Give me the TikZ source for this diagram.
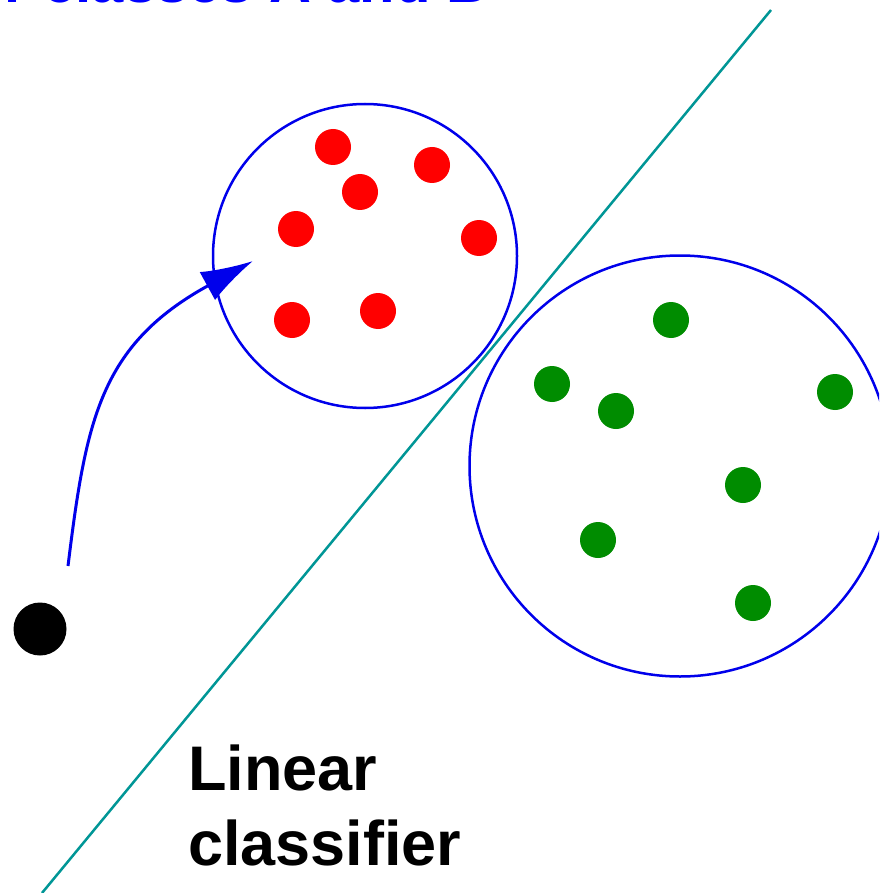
\documentclass[tikz,border=0pt]{standalone}
\usepackage{fontspec}
\setmainfont{Liberation Sans}
\usetikzlibrary{arrows.meta}
\definecolor{tealline}{RGB}{0,150,150}
\definecolor{ptred}{RGB}{255,0,0}
\definecolor{ptgreen}{RGB}{0,140,0}
\definecolor{circblue}{RGB}{0,0,235}
\begin{document}
\begin{tikzpicture}[x=1pt,y=-1pt,
  reddot/.style={circle,fill=ptred,inner sep=0pt,minimum size=36pt},
  greendot/.style={circle,fill=ptgreen,inner sep=0pt,minimum size=36pt},
  cluster/.style={circle,draw=circblue,line width=2.5pt,inner sep=0pt},
  lbl/.style={font=\bfseries\fontsize{63}{75}\selectfont,align=left,inner sep=0pt}]
\clip (0,0) rectangle (879,893);
\fill[white] (0,0) rectangle (879,893);
% top (cut) title
\node[anchor=base west,inner sep=0pt,text=blue,font=\bfseries\fontsize{58}{70}\selectfont] (title) at (-50,2.5) {for classes A and B};
% linear classifier line
\coordinate (lA) at (42,893);
\coordinate (lB) at (771,10);
\draw[tealline,line width=2.5pt] (lA) -- (lB);
% clusters
\node[cluster,minimum size=304pt] (cA) at (365,256) {};
\node[cluster,minimum size=421pt] (cB) at (680,466) {};
% red points
\foreach \n/\x/\y in {r1/333/147,r2/432/165,r3/360/192,r4/296/229,r5/479/238,r6/292/320,r7/378/311}
  \node[reddot] (\n) at (\x,\y) {};
% green points
\foreach \n/\x/\y in {g1/671/320,g2/552/384,g3/616/411,g4/835/392,g5/743/485,g6/598/540,g7/753/603}
  \node[greendot] (\n) at (\x,\y) {};
% query point
\node[circle,fill=black,inner sep=0pt,minimum size=53pt] (q) at (40,629) {};
% arrow
\coordinate (aS) at (68,566);
\coordinate (aE) at (253,261);
\draw[circblue,line width=3pt,-{Latex[length=52pt,width=32pt]}] (aS) .. controls (86,420) and (100,345) .. (aE);
% label
\node[lbl,anchor=base west] (lin) at (188,865) {Linear\\classifier};
\end{tikzpicture}
\end{document}
